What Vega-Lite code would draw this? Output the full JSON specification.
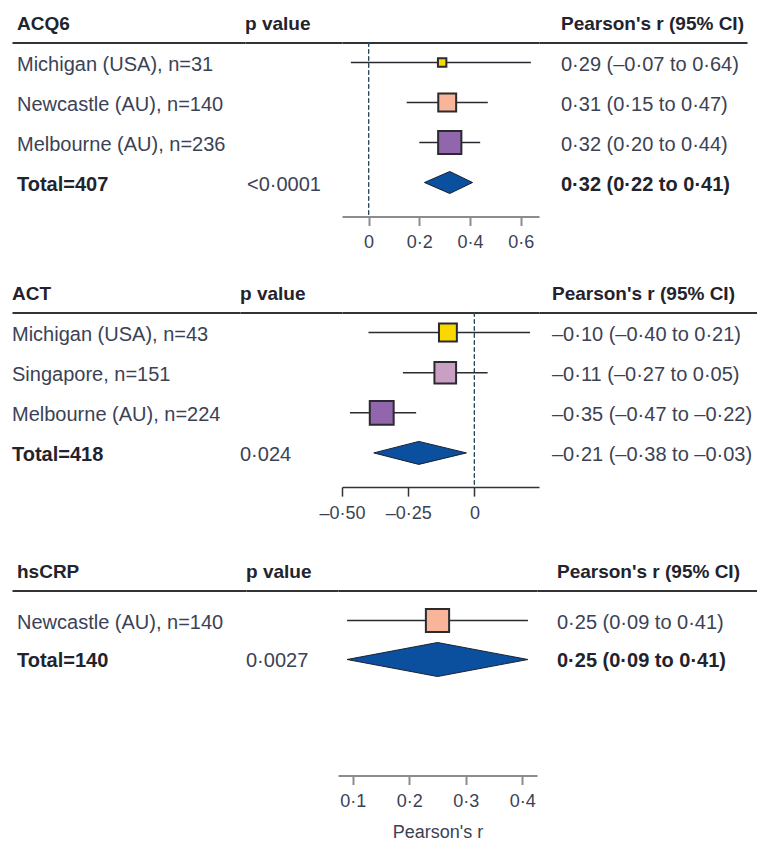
{
  "$schema": "https://vega.github.io/schema/vega-lite/v6.json",
  "padding": {"left": 12, "top": 14.5, "right": 0, "bottom": 0},
  "background": "white",
  "datasets": {
    "rows": [
      {"panel": "ACQ6", "row": "r1", "label": "Michigan (USA), n=31", "site": "Michigan", "n": 31, "r": 0.29, "lo": -0.07, "hi": 0.64, "p": "", "ci": "0·29 (–0·07 to 0·64)", "total": false},
      {"panel": "ACQ6", "row": "r2", "label": "Newcastle (AU), n=140", "site": "Newcastle", "n": 140, "r": 0.31, "lo": 0.15, "hi": 0.47, "p": "", "ci": "0·31 (0·15 to 0·47)", "total": false},
      {"panel": "ACQ6", "row": "r3", "label": "Melbourne (AU), n=236", "site": "Melbourne", "n": 236, "r": 0.32, "lo": 0.20, "hi": 0.44, "p": "", "ci": "0·32 (0·20 to 0·44)", "total": false},
      {"panel": "ACQ6", "row": "r4", "label": "Total=407", "site": "Total", "n": 407, "r": 0.32, "lo": 0.22, "hi": 0.41, "p": "<0·0001", "ci": "0·32 (0·22 to 0·41)", "total": true},
      {"panel": "ACT", "row": "r1", "label": "Michigan (USA), n=43", "site": "Michigan", "n": 43, "r": -0.10, "lo": -0.40, "hi": 0.21, "p": "", "ci": "–0·10 (–0·40 to 0·21)", "total": false},
      {"panel": "ACT", "row": "r2", "label": "Singapore, n=151", "site": "Singapore", "n": 151, "r": -0.11, "lo": -0.27, "hi": 0.05, "p": "", "ci": "–0·11 (–0·27 to 0·05)", "total": false},
      {"panel": "ACT", "row": "r3", "label": "Melbourne (AU), n=224", "site": "Melbourne", "n": 224, "r": -0.35, "lo": -0.47, "hi": -0.22, "p": "", "ci": "–0·35 (–0·47 to –0·22)", "total": false},
      {"panel": "ACT", "row": "r4", "label": "Total=418", "site": "Total", "n": 418, "r": -0.21, "lo": -0.38, "hi": -0.03, "p": "0·024", "ci": "–0·21 (–0·38 to –0·03)", "total": true},
      {"panel": "hsCRP", "row": "r1", "label": "Newcastle (AU), n=140", "site": "Newcastle", "n": 140, "r": 0.25, "lo": 0.09, "hi": 0.41, "p": "", "ci": "0·25 (0·09 to 0·41)", "total": false},
      {"panel": "hsCRP", "row": "r2", "label": "Total=140", "site": "Total", "n": 140, "r": 0.25, "lo": 0.09, "hi": 0.41, "p": "0·0027", "ci": "0·25 (0·09 to 0·41)", "total": true}
    ],
    "diamonds": [
      {"panel": "ACQ6", "row": "r4", "x": 0.22, "side": 0},
      {"panel": "ACQ6", "row": "r4", "x": 0.32, "side": -1},
      {"panel": "ACQ6", "row": "r4", "x": 0.41, "side": 0},
      {"panel": "ACQ6", "row": "r4", "x": 0.32, "side": 1},
      {"panel": "ACT", "row": "r4", "x": -0.38, "side": 0},
      {"panel": "ACT", "row": "r4", "x": -0.21, "side": -1},
      {"panel": "ACT", "row": "r4", "x": -0.03, "side": 0},
      {"panel": "ACT", "row": "r4", "x": -0.21, "side": 1},
      {"panel": "hsCRP", "row": "r2", "x": 0.09, "side": 0},
      {"panel": "hsCRP", "row": "r2", "x": 0.25, "side": -1},
      {"panel": "hsCRP", "row": "r2", "x": 0.41, "side": 0},
      {"panel": "hsCRP", "row": "r2", "x": 0.25, "side": 1}
    ]
  },
  "spacing": 33,
  "resolve": {"scale": {"size": "independent", "yOffset": "independent"}},
  "vconcat": [
    {
      "spacing": 0,
      "bounds": "flush",
      "resolve": {"scale": {"size": "independent", "yOffset": "independent"}},
      "hconcat": [
        {
          "width": 233, "height": 174,
          "title": {"text": "ACQ6", "dx": 5},
          "data": {"name": "rows"},
          "transform": [{"filter": "datum.panel === 'ACQ6'"}],
          "encoding": {
            "x": {"field": "panel", "type": "nominal", "bandPosition": 0, "scale": {"type": "band", "paddingInner": 0, "paddingOuter": 0}, "axis": {"orient": "top", "domain": true, "domainColor": "#333333", "domainWidth": 2, "ticks": false, "labels": false, "title": null, "grid": false}},
            "y": {"field": "row", "type": "nominal", "scale": {"type": "band", "domain": ["r1", "r2", "r3", "r4"], "paddingInner": 0, "paddingOuter": 0.175, "align": 0}, "axis": null},
            "text": {"field": "label"}
          },
          "layer": [
            {"transform": [{"filter": "!datum.total"}], "mark": {"type": "text", "align": "left", "baseline": "middle", "dx": 5, "dy": 2, "fontSize": 20, "color": "#3b4255"}},
            {"transform": [{"filter": "datum.total"}], "mark": {"type": "text", "align": "left", "baseline": "middle", "dx": 5, "dy": 2, "fontSize": 20, "fontWeight": "bold", "color": "#23232d"}}
          ]
        },
        {
          "width": 97, "height": 174,
          "title": {"text": "p value"},
          "data": {"name": "rows"},
          "transform": [{"filter": "datum.panel === 'ACQ6'"}],
          "encoding": {
            "x": {"field": "panel", "type": "nominal", "bandPosition": 0, "scale": {"type": "band", "paddingInner": 0, "paddingOuter": 0}, "axis": {"orient": "top", "domain": true, "domainColor": "#333333", "domainWidth": 2, "ticks": false, "labels": false, "title": null, "grid": false}},
            "y": {"field": "row", "type": "nominal", "scale": {"type": "band", "domain": ["r1", "r2", "r3", "r4"], "paddingInner": 0, "paddingOuter": 0.175, "align": 0}, "axis": null},
            "text": {"field": "p"}
          },
          "layer": [
            {"mark": {"type": "text", "align": "left", "baseline": "middle", "dx": 2, "dy": 2, "fontSize": 20, "color": "#3b4255"}}
          ]
        },
        {
          "width": 197, "height": 174,
          "resolve": {"axis": {"x": "independent"}},
          "layer": [
            {
              "data": {"name": "rows"},
              "transform": [{"filter": "datum.panel === 'ACQ6'"}],
              "mark": {"type": "rule", "strokeDash": [4, 3], "color": "#2c4a5a", "strokeWidth": 1},
              "encoding": {
                "x": {"datum": 0, "type": "quantitative", "scale": {"domain": [-0.105, 0.672], "nice": false, "zero": false}, "axis": {"orient": "top", "domain": true, "domainColor": "#333333", "domainWidth": 2, "ticks": false, "labels": false, "title": null, "grid": false}}
              }
            },
            {
              "data": {"name": "rows"},
              "transform": [{"filter": "datum.panel === 'ACQ6' && !datum.total"}],
              "mark": {"type": "rule", "color": "#2a2a30", "strokeWidth": 1.5},
              "encoding": {
                "x": {"field": "lo", "type": "quantitative", "scale": {"domain": [-0.105, 0.672], "nice": false, "zero": false}, "axis": null},
                "x2": {"field": "hi"},
                "y": {"field": "row", "type": "nominal", "scale": {"type": "band", "domain": ["r1", "r2", "r3", "r4"], "paddingInner": 0, "paddingOuter": 0.175, "align": 0}, "axis": null}
              }
            },
            {
              "data": {"name": "rows"},
              "transform": [{"filter": "datum.panel === 'ACQ6' && !datum.total"}],
              "mark": {"type": "square", "filled": true, "opacity": 1, "stroke": "#2a2a30", "strokeWidth": 2},
              "encoding": {
                "x": {"field": "r", "type": "quantitative", "scale": {"domain": [-0.105, 0.672], "nice": false, "zero": false}, "axis": {"orient": "bottom", "values": [0, 0.2, 0.4, 0.6], "labelExpr": "datum.value == 0 ? '0' : replace(format(datum.value, '.1f'), '.', '·')", "domain": true, "domainColor": "#8c8c8c", "domainWidth": 2, "ticks": true, "tickColor": "#8c8c8c", "tickWidth": 2, "tickSize": 9, "labelFontSize": 18, "labelColor": "#3b4255", "labelPadding": 8, "labelFlush": false, "labelOverlap": false, "grid": false, "title": null}},
                "y": {"field": "row", "type": "nominal", "scale": {"type": "band", "domain": ["r1", "r2", "r3", "r4"], "paddingInner": 0, "paddingOuter": 0.175, "align": 0}, "axis": null},
                "size": {"field": "n", "type": "quantitative", "scale": {"domain": [0, 236], "range": [0, 540], "zero": false}, "legend": null},
                "color": {"field": "site", "type": "nominal", "scale": {"domain": ["Michigan", "Newcastle", "Melbourne", "Singapore"], "range": ["#f9d800", "#f9b59a", "#9166ad", "#c9a0c4"]}, "legend": null}
              }
            },
            {
              "data": {"name": "diamonds"},
              "transform": [{"filter": "datum.panel === 'ACQ6'"}],
              "mark": {"type": "line", "interpolate": "linear-closed", "fill": "#0b4f9f", "stroke": "#1a2230", "strokeWidth": 1},
              "encoding": {
                "x": {"field": "x", "type": "quantitative", "scale": {"domain": [-0.105, 0.672], "nice": false, "zero": false}, "axis": null},
                "y": {"field": "row", "type": "nominal", "scale": {"type": "band", "domain": ["r1", "r2", "r3", "r4"], "paddingInner": 0, "paddingOuter": 0.175, "align": 0}, "axis": null},
                "yOffset": {"field": "side", "type": "quantitative", "scale": {"domain": [-1, 1], "range": [9, 31]}},
                "order": {"value": null}
              }
            }
          ]
        },
        {
          "width": 208, "height": 174,
          "title": {"text": "Pearson's r (95% CI)", "dx": 22},
          "data": {"name": "rows"},
          "transform": [{"filter": "datum.panel === 'ACQ6'"}],
          "encoding": {
            "x": {"field": "panel", "type": "nominal", "bandPosition": 0, "scale": {"type": "band", "paddingInner": 0, "paddingOuter": 0}, "axis": {"orient": "top", "domain": true, "domainColor": "#333333", "domainWidth": 2, "ticks": false, "labels": false, "title": null, "grid": false}},
            "y": {"field": "row", "type": "nominal", "scale": {"type": "band", "domain": ["r1", "r2", "r3", "r4"], "paddingInner": 0, "paddingOuter": 0.175, "align": 0}, "axis": null},
            "text": {"field": "ci"}
          },
          "layer": [
            {"transform": [{"filter": "!datum.total"}], "mark": {"type": "text", "align": "left", "baseline": "middle", "dx": 22, "dy": 2, "fontSize": 20, "color": "#3b4255"}},
            {"transform": [{"filter": "datum.total"}], "mark": {"type": "text", "align": "left", "baseline": "middle", "dx": 22, "dy": 2, "fontSize": 20, "fontWeight": "bold", "color": "#23232d"}}
          ]
        }
      ]
    },
    {
      "spacing": 40,
      "resolve": {"scale": {"size": "independent", "yOffset": "independent"}},
      "vconcat": [
        {
          "spacing": 0,
          "bounds": "flush",
          "resolve": {"scale": {"size": "independent", "yOffset": "independent"}},
          "hconcat": [
            {
              "width": 228, "height": 174.6,
              "title": {"text": "ACT", "dx": 0},
              "data": {"name": "rows"},
              "transform": [{"filter": "datum.panel === 'ACT'"}],
              "encoding": {
                "x": {"field": "panel", "type": "nominal", "bandPosition": 0, "scale": {"type": "band", "paddingInner": 0, "paddingOuter": 0}, "axis": {"orient": "top", "domain": true, "domainColor": "#333333", "domainWidth": 2, "ticks": false, "labels": false, "title": null, "grid": false}},
                "y": {"field": "row", "type": "nominal", "scale": {"type": "band", "domain": ["r1", "r2", "r3", "r4"], "paddingInner": 0, "paddingOuter": 0.175, "align": 0}, "axis": null},
                "text": {"field": "label"}
              },
              "layer": [
                {"transform": [{"filter": "!datum.total"}], "mark": {"type": "text", "align": "left", "baseline": "middle", "dx": 0, "dy": 2, "fontSize": 20, "color": "#3b4255"}},
                {"transform": [{"filter": "datum.total"}], "mark": {"type": "text", "align": "left", "baseline": "middle", "dx": 0, "dy": 2, "fontSize": 20, "fontWeight": "bold", "color": "#23232d"}}
              ]
            },
            {
              "width": 102, "height": 174.6,
              "title": {"text": "p value"},
              "data": {"name": "rows"},
              "transform": [{"filter": "datum.panel === 'ACT'"}],
              "encoding": {
                "x": {"field": "panel", "type": "nominal", "bandPosition": 0, "scale": {"type": "band", "paddingInner": 0, "paddingOuter": 0}, "axis": {"orient": "top", "domain": true, "domainColor": "#333333", "domainWidth": 2, "ticks": false, "labels": false, "title": null, "grid": false}},
                "y": {"field": "row", "type": "nominal", "scale": {"type": "band", "domain": ["r1", "r2", "r3", "r4"], "paddingInner": 0, "paddingOuter": 0.175, "align": 0}, "axis": null},
                "text": {"field": "p"}
              },
              "layer": [
                {"mark": {"type": "text", "align": "left", "baseline": "middle", "dy": 2, "fontSize": 20, "color": "#3b4255"}}
              ]
            },
            {
              "width": 197, "height": 174.6,
              "resolve": {"axis": {"x": "independent"}},
              "layer": [
                {
                  "data": {"name": "rows"},
                  "transform": [{"filter": "datum.panel === 'ACT'"}],
                  "mark": {"type": "rule", "strokeDash": [4, 3], "color": "#2c4a5a", "strokeWidth": 1},
                  "encoding": {
                    "x": {"datum": 0, "type": "quantitative", "scale": {"domain": [-0.5, 0.244], "nice": false, "zero": false}, "axis": {"orient": "top", "domain": true, "domainColor": "#333333", "domainWidth": 2, "ticks": false, "labels": false, "title": null, "grid": false}}
                  }
                },
                {
                  "data": {"name": "rows"},
                  "transform": [{"filter": "datum.panel === 'ACT' && !datum.total"}],
                  "mark": {"type": "rule", "color": "#2a2a30", "strokeWidth": 1.5},
                  "encoding": {
                    "x": {"field": "lo", "type": "quantitative", "scale": {"domain": [-0.5, 0.244], "nice": false, "zero": false}, "axis": null},
                    "x2": {"field": "hi"},
                    "y": {"field": "row", "type": "nominal", "scale": {"type": "band", "domain": ["r1", "r2", "r3", "r4"], "paddingInner": 0, "paddingOuter": 0.175, "align": 0}, "axis": null}
                  }
                },
                {
                  "data": {"name": "rows"},
                  "transform": [{"filter": "datum.panel === 'ACT' && !datum.total"}],
                  "mark": {"type": "square", "filled": true, "opacity": 1, "stroke": "#2a2a30", "strokeWidth": 2},
                  "encoding": {
                    "x": {"field": "r", "type": "quantitative", "scale": {"domain": [-0.5, 0.244], "nice": false, "zero": false}, "axis": {"orient": "bottom", "values": [-0.5, -0.25, 0], "labelExpr": "datum.value == 0 ? '0' : replace(replace(format(datum.value, '.2f'), '.', '·'), '−', '–')", "domain": true, "domainColor": "#333333", "domainWidth": 1.5, "ticks": true, "tickColor": "#333333", "tickWidth": 1.5, "tickSize": 9, "labelFontSize": 18, "labelColor": "#3b4255", "labelPadding": 8, "labelFlush": false, "labelOverlap": false, "grid": false, "title": null}},
                    "y": {"field": "row", "type": "nominal", "scale": {"type": "band", "domain": ["r1", "r2", "r3", "r4"], "paddingInner": 0, "paddingOuter": 0.175, "align": 0}, "axis": null},
                    "size": {"field": "n", "type": "quantitative", "scale": {"domain": [43, 224], "range": [320, 570], "zero": false}, "legend": null},
                    "color": {"field": "site", "type": "nominal", "scale": {"domain": ["Michigan", "Newcastle", "Melbourne", "Singapore"], "range": ["#f9d800", "#f9b59a", "#9166ad", "#c9a0c4"]}, "legend": null}
                  }
                },
                {
                  "data": {"name": "diamonds"},
                  "transform": [{"filter": "datum.panel === 'ACT'"}],
                  "mark": {"type": "line", "interpolate": "linear-closed", "fill": "#0b4f9f", "stroke": "#1a2230", "strokeWidth": 1},
                  "encoding": {
                    "x": {"field": "x", "type": "quantitative", "scale": {"domain": [-0.5, 0.244], "nice": false, "zero": false}, "axis": null},
                    "y": {"field": "row", "type": "nominal", "scale": {"type": "band", "domain": ["r1", "r2", "r3", "r4"], "paddingInner": 0, "paddingOuter": 0.175, "align": 0}, "axis": null},
                    "yOffset": {"field": "side", "type": "quantitative", "scale": {"domain": [-1, 1], "range": [8.5, 31.5]}},
                    "order": {"value": null}
                  }
                }
              ]
            },
            {
              "width": 218, "height": 174.6,
              "title": {"text": "Pearson's r (95% CI)", "dx": 13},
              "data": {"name": "rows"},
              "transform": [{"filter": "datum.panel === 'ACT'"}],
              "encoding": {
                "x": {"field": "panel", "type": "nominal", "bandPosition": 0, "scale": {"type": "band", "paddingInner": 0, "paddingOuter": 0}, "axis": {"orient": "top", "domain": true, "domainColor": "#333333", "domainWidth": 2, "ticks": false, "labels": false, "title": null, "grid": false}},
                "y": {"field": "row", "type": "nominal", "scale": {"type": "band", "domain": ["r1", "r2", "r3", "r4"], "paddingInner": 0, "paddingOuter": 0.175, "align": 0}, "axis": null},
                "text": {"field": "ci"}
              },
              "layer": [
                {"mark": {"type": "text", "align": "left", "baseline": "middle", "dx": 13, "dy": 2, "fontSize": 20, "color": "#3b4255"}}
              ]
            }
          ]
        },
        {
          "spacing": 0,
          "bounds": "flush",
          "resolve": {"scale": {"size": "independent", "yOffset": "independent"}},
          "hconcat": [
            {
              "width": 234, "height": 185,
              "title": {"text": "hsCRP", "dx": 5},
              "data": {"name": "rows"},
              "transform": [{"filter": "datum.panel === 'hsCRP'"}],
              "encoding": {
                "x": {"field": "panel", "type": "nominal", "bandPosition": 0, "scale": {"type": "band", "paddingInner": 0, "paddingOuter": 0}, "axis": {"orient": "top", "domain": true, "domainColor": "#333333", "domainWidth": 2, "ticks": false, "labels": false, "title": null, "grid": false}},
                "y": {"field": "row", "type": "nominal", "scale": {"type": "band", "domain": ["r1", "r2", "r3", "r4"], "paddingInner": 0, "paddingOuter": 0.372, "align": 0.362}, "axis": null},
                "text": {"field": "label"}
              },
              "layer": [
                {"transform": [{"filter": "!datum.total"}], "mark": {"type": "text", "align": "left", "baseline": "middle", "dx": 5, "dy": 2, "fontSize": 20, "color": "#3b4255"}},
                {"transform": [{"filter": "datum.total"}], "mark": {"type": "text", "align": "left", "baseline": "middle", "dx": 5, "dy": 2, "fontSize": 20, "fontWeight": "bold", "color": "#23232d"}}
              ]
            },
            {
              "width": 92, "height": 185,
              "title": {"text": "p value"},
              "data": {"name": "rows"},
              "transform": [{"filter": "datum.panel === 'hsCRP'"}],
              "encoding": {
                "x": {"field": "panel", "type": "nominal", "bandPosition": 0, "scale": {"type": "band", "paddingInner": 0, "paddingOuter": 0}, "axis": {"orient": "top", "domain": true, "domainColor": "#333333", "domainWidth": 2, "ticks": false, "labels": false, "title": null, "grid": false}},
                "y": {"field": "row", "type": "nominal", "scale": {"type": "band", "domain": ["r1", "r2", "r3", "r4"], "paddingInner": 0, "paddingOuter": 0.372, "align": 0.362}, "axis": null},
                "text": {"field": "p"}
              },
              "layer": [
                {"mark": {"type": "text", "align": "left", "baseline": "middle", "dy": 2, "fontSize": 20, "color": "#3b4255"}}
              ]
            },
            {
              "width": 199, "height": 185,
              "resolve": {"axis": {"x": "independent"}},
              "layer": [
                {
                  "data": {"name": "rows"},
                  "transform": [{"filter": "datum.panel === 'hsCRP' && !datum.total"}],
                  "mark": {"type": "rule", "color": "#2a2a30", "strokeWidth": 1.5},
                  "encoding": {
                    "x": {"field": "lo", "type": "quantitative", "scale": {"domain": [0.074, 0.426], "nice": false, "zero": false}, "axis": {"orient": "top", "domain": true, "domainColor": "#333333", "domainWidth": 2, "ticks": false, "labels": false, "title": null, "grid": false}},
                    "x2": {"field": "hi"},
                    "y": {"field": "row", "type": "nominal", "scale": {"type": "band", "domain": ["r1", "r2", "r3", "r4"], "paddingInner": 0, "paddingOuter": 0.372, "align": 0.362}, "axis": null}
                  }
                },
                {
                  "data": {"name": "rows"},
                  "transform": [{"filter": "datum.panel === 'hsCRP' && !datum.total"}],
                  "mark": {"type": "square", "filled": true, "opacity": 1, "stroke": "#2a2a30", "strokeWidth": 2},
                  "encoding": {
                    "x": {"field": "r", "type": "quantitative", "scale": {"domain": [0.074, 0.426], "nice": false, "zero": false}, "axis": {"orient": "bottom", "values": [0.1, 0.2, 0.3, 0.4], "labelExpr": "replace(format(datum.value, '.1f'), '.', '·')", "domain": true, "domainColor": "#8c8c8c", "domainWidth": 2, "ticks": true, "tickColor": "#8c8c8c", "tickWidth": 2, "tickSize": 9, "labelFontSize": 18, "labelColor": "#3b4255", "labelPadding": 8, "labelFlush": false, "labelOverlap": false, "grid": false, "title": "Pearson's r", "titleFontSize": 18, "titleFontWeight": "normal", "titleColor": "#3b4255", "titlePadding": 13}},
                    "y": {"field": "row", "type": "nominal", "scale": {"type": "band", "domain": ["r1", "r2", "r3", "r4"], "paddingInner": 0, "paddingOuter": 0.372, "align": 0.362}, "axis": null},
                    "size": {"field": "n", "type": "quantitative", "scale": {"domain": [0, 140], "range": [0, 540], "zero": false}, "legend": null},
                    "color": {"field": "site", "type": "nominal", "scale": {"domain": ["Michigan", "Newcastle", "Melbourne", "Singapore"], "range": ["#f9d800", "#f9b59a", "#9166ad", "#c9a0c4"]}, "legend": null}
                  }
                },
                {
                  "data": {"name": "diamonds"},
                  "transform": [{"filter": "datum.panel === 'hsCRP'"}],
                  "mark": {"type": "line", "interpolate": "linear-closed", "fill": "#0b4f9f", "stroke": "#1a2230", "strokeWidth": 1},
                  "encoding": {
                    "x": {"field": "x", "type": "quantitative", "scale": {"domain": [0.074, 0.426], "nice": false, "zero": false}, "axis": null},
                    "y": {"field": "row", "type": "nominal", "scale": {"type": "band", "domain": ["r1", "r2", "r3", "r4"], "paddingInner": 0, "paddingOuter": 0.372, "align": 0.362}, "axis": null},
                    "yOffset": {"field": "side", "type": "quantitative", "scale": {"domain": [-1, 1], "range": [2.5, 36.5]}},
                    "order": {"value": null}
                  }
                }
              ]
            },
            {
              "width": 220, "height": 185,
              "title": {"text": "Pearson's r (95% CI)", "dx": 20},
              "data": {"name": "rows"},
              "transform": [{"filter": "datum.panel === 'hsCRP'"}],
              "encoding": {
                "x": {"field": "panel", "type": "nominal", "bandPosition": 0, "scale": {"type": "band", "paddingInner": 0, "paddingOuter": 0}, "axis": {"orient": "top", "domain": true, "domainColor": "#333333", "domainWidth": 2, "ticks": false, "labels": false, "title": null, "grid": false}},
                "y": {"field": "row", "type": "nominal", "scale": {"type": "band", "domain": ["r1", "r2", "r3", "r4"], "paddingInner": 0, "paddingOuter": 0.372, "align": 0.362}, "axis": null},
                "text": {"field": "ci"}
              },
              "layer": [
                {"transform": [{"filter": "!datum.total"}], "mark": {"type": "text", "align": "left", "baseline": "middle", "dx": 20, "dy": 2, "fontSize": 20, "color": "#3b4255"}},
                {"transform": [{"filter": "datum.total"}], "mark": {"type": "text", "align": "left", "baseline": "middle", "dx": 20, "dy": 2, "fontSize": 20, "fontWeight": "bold", "color": "#23232d"}}
              ]
            }
          ]
        }
      ]
    }
  ],
  "config": {
    "view": {"stroke": null},
    "font": "Liberation Sans",
    "text": {"font": "Liberation Sans"},
    "axis": {"labelFont": "Liberation Sans", "titleFont": "Liberation Sans"},
    "title": {"font": "Liberation Sans", "fontSize": 19, "fontWeight": "bold", "color": "#23232d", "anchor": "start", "frame": "group", "offset": 9, "baseline": "alphabetic"}
  }
}
